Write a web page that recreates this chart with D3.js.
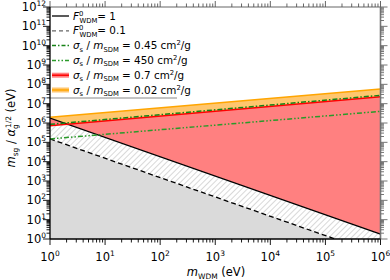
<!DOCTYPE html>
<html><head><meta charset="utf-8">
<script src="https://cdn.jsdelivr.net/npm/d3@7"></script>
<style>
body{margin:0;background:#fff;}
svg text{font-family:"DejaVu Sans",sans-serif;}
</style></head><body>
<svg id="c" width="390" height="280"></svg>
<script>
// Data (endpoints of straight log-log lines), m_WDM in eV
const mWDM = [1, 1e6];
const F1 = [1.8e6, 1.8];          // F0_WDM = 1
const F01 = [1.5e5, 0.15];        // F0_WDM = 0.1
const sig045 = [8.5e5, 2.7e7];    // 0.45 cm2/g
const sig450 = [1.5e5, 4.0e6];    // 450 cm2/g
const sig07 = [7.2e5, 2.3e7];     // 0.7 cm2/g
const sig002 = [2.0e6, 5.8e7];    // 0.02 cm2/g
const xTickExp = [0,1,2,3,4,5,6];
const yTickExp = [0,1,2,3,4,5,6,7,8,9,10,11,12];

const svg = d3.select("#c");
const L=50, R=380.5, T=7, B=239;
const x = d3.scaleLog().domain([1,1e6]).range([L,R]);
const y = d3.scaleLog().domain([1,1e12]).range([B,T]);

const defs = svg.append("defs");
defs.append("clipPath").attr("id","clip").append("rect")
  .attr("x",L).attr("y",T).attr("width",R-L).attr("height",B-T);
const pat = defs.append("pattern").attr("id","hatch").attr("patternUnits","userSpaceOnUse")
  .attr("width",4).attr("height",4).attr("patternTransform","rotate(45)");
pat.append("rect").attr("width",4).attr("height",4).attr("fill","#fff");
pat.append("line").attr("x1",0).attr("y1",0).attr("x2",0).attr("y2",4)
  .attr("stroke","#b8b8b8").attr("stroke-width",1.1);

const g = svg.append("g").attr("clip-path","url(#clip)");
const idx = mWDM.map((d,i)=>i);
const area = (lo,hi)=> d3.area().x(i=>x(mWDM[i]))
  .y0(i=> lo===null ? B+50 : y(lo[i])).y1(i=>y(hi[i]))(idx);
const line = (s)=> d3.line().x(i=>x(mWDM[i])).y(i=>y(s[i]))(idx);

g.append("path").attr("d",area(null,F01)).attr("fill","#dadada");
g.append("path").attr("d",area(F01,F1)).attr("fill","url(#hatch)");
g.append("path").attr("d",area(sig07,sig002)).attr("fill","#ffc66e");
g.append("path").attr("d",area(F1,sig07)).attr("fill","#ff8080");

g.append("path").attr("d",line(F01)).attr("fill","none").attr("stroke","#000").attr("stroke-width",1.3).attr("stroke-dasharray","5,3");
g.append("path").attr("d",line(F1)).attr("fill","none").attr("stroke","#000").attr("stroke-width",1.3);
g.append("path").attr("d",line(sig450)).attr("fill","none").attr("stroke","#2a9a2a").attr("stroke-width",1.5).attr("stroke-dasharray","5,2,1.5,2,1.5,2");
g.append("path").attr("d",line(sig07)).attr("fill","none").attr("stroke","#ff0000").attr("stroke-width",1.5);
g.append("path").attr("d",line(sig045)).attr("fill","none").attr("stroke","#178217").attr("stroke-width",1.5).attr("stroke-dasharray","5,2,1.5,2");
g.append("path").attr("d",line(sig002)).attr("fill","none").attr("stroke","#ffa500").attr("stroke-width",1.5);

// legend
const lg = svg.append("g");
lg.append("line").attr("x1",L).attr("x2",177).attr("y1",98).attr("y2",98).attr("stroke","#888").attr("stroke-width",1);
const items = [
  {t:"F1", style:{stroke:"#000",w:1.3,dash:null}},
  {t:"F01", style:{stroke:"#666",w:1.2,dash:"4,3"}},
  {t:"0.45", style:{stroke:"#178217",w:1.5,dash:"4,2,1.5,2"}},
  {t:"450", style:{stroke:"#2a9a2a",w:1.5,dash:"4,2,1.5,2,1.5,2"}},
  {t:"0.7", style:{stroke:"#ff0000",w:1.5,dash:null,fill:"#ff8080"}},
  {t:"0.02", style:{stroke:"#ffa500",w:1.5,dash:null,fill:"#ffc66e"}}
];
const ly0 = 16, ldy = 14.8;
items.forEach((it,i)=>{
  const yy = ly0 + i*ldy;
  if(it.style.fill) lg.append("rect").attr("x",52).attr("y",yy-2.5).attr("width",17).attr("height",5).attr("fill",it.style.fill);
  lg.append("line").attr("x1",52).attr("x2",69).attr("y1",yy).attr("y2",yy)
    .attr("stroke",it.style.stroke).attr("stroke-width",it.style.w)
    .attr("stroke-dasharray",it.style.dash);
  const tx = lg.append("text").attr("x",73).attr("y",yy+3.5).attr("font-size",10.4);
  if(it.t==="F1"||it.t==="F01"){
    tx.append("tspan").attr("font-style","italic").text("F");
    tx.append("tspan").attr("font-size",6.8).attr("dy",-4).text("0");
    tx.append("tspan").attr("font-size",6.8).attr("dx",-3.8).attr("dy",7).text("WDM");
    tx.append("tspan").attr("dy",-3).text("= " + (it.t==="F1"?"1":"0.1"));
  } else {
    tx.append("tspan").attr("font-style","italic").text("σ");
    tx.append("tspan").attr("font-size",6.8).attr("dy",2.5).text("s");
    tx.append("tspan").attr("dy",-2.5).text(" / ");
    tx.append("tspan").attr("font-style","italic").text("m");
    tx.append("tspan").attr("font-size",6.8).attr("dy",2.5).text("SDM");
    tx.append("tspan").attr("dy",-2.5).text(" = " + it.t + " cm");
    tx.append("tspan").attr("font-size",6.8).attr("dy",-4).text("2");
    tx.append("tspan").attr("dy",4).text("/g");
  }
});

// axes frame
const ax = svg.append("g");
ax.append("line").attr("x1",L).attr("x2",R).attr("y1",T).attr("y2",T).attr("stroke","#666").attr("stroke-width",1.2);
ax.append("line").attr("x1",R).attr("x2",R).attr("y1",T).attr("y2",B).attr("stroke","#777").attr("stroke-width",1.6);
ax.append("line").attr("x1",L).attr("x2",R).attr("y1",B).attr("y2",B).attr("stroke","#000").attr("stroke-width",1.3);
ax.append("line").attr("x1",L).attr("x2",L).attr("y1",T).attr("y2",B).attr("stroke","#000").attr("stroke-width",1.3);

function ticksFor(exps){
  const out=[];
  exps.forEach((e,i)=>{
    out.push({v:Math.pow(10,e),major:true,e:e});
    if(i<exps.length-1) for(let k=2;k<10;k++) out.push({v:k*Math.pow(10,e),major:false});
  });
  return out;
}
const xt = ticksFor(xTickExp), yt = ticksFor(yTickExp);
xt.forEach(t=>{
  const px = x(t.v), len = t.major?6:3.5;
  ax.append("line").attr("x1",px).attr("x2",px).attr("y1",B).attr("y2",B+len).attr("stroke","#000").attr("stroke-width",0.9);
  ax.append("line").attr("x1",px).attr("x2",px).attr("y1",T).attr("y2",T-len).attr("stroke","#555").attr("stroke-width",0.9);
});
yt.forEach(t=>{
  const py = y(t.v), len = t.major?7:3.5;
  ax.append("line").attr("x1",L).attr("x2",L-len).attr("y1",py).attr("y2",py).attr("stroke","#000").attr("stroke-width",0.9);
  ax.append("line").attr("x1",R).attr("x2",R+len).attr("y1",py).attr("y2",py).attr("stroke","#666").attr("stroke-width",0.9);
});
xTickExp.forEach(e=>{
  const t = ax.append("text").attr("x",x(Math.pow(10,e))).attr("y",261).attr("text-anchor","middle").attr("font-size",11.5);
  t.append("tspan").text("10");
  t.append("tspan").attr("font-size",7.5).attr("dy",-5).text(e);
});
yTickExp.forEach(e=>{
  const t = ax.append("text").attr("x",46).attr("y",y(Math.pow(10,e))+4).attr("text-anchor","end").attr("font-size",11.5);
  t.append("tspan").text("10");
  t.append("tspan").attr("font-size",7.5).attr("dy",-5).text(e);
});

// axis labels
const xl = svg.append("text").attr("x",216).attr("y",276).attr("text-anchor","middle").attr("font-size",11.5);
xl.append("tspan").attr("font-style","italic").text("m");
xl.append("tspan").attr("font-size",7.5).attr("dy",2.5).text("WDM");
xl.append("tspan").attr("dy",-2.5).text(" (eV)");

const yl = svg.append("text").attr("transform","translate(15,128) rotate(-90)").attr("text-anchor","middle").attr("font-size",11.5);
yl.append("tspan").attr("font-style","italic").text("m");
yl.append("tspan").attr("font-size",7.5).attr("dy",2.5).text("sg");
yl.append("tspan").attr("dy",-2.5).text(" / ");
yl.append("tspan").attr("font-style","italic").text("α");
yl.append("tspan").attr("font-size",7.5).attr("dy",2.5).text("g");
yl.append("tspan").attr("font-size",7.5).attr("dx",-4).attr("dy",-7).text("1/2");
yl.append("tspan").attr("dy",4.5).text(" (eV)");
</script>
</body></html>
